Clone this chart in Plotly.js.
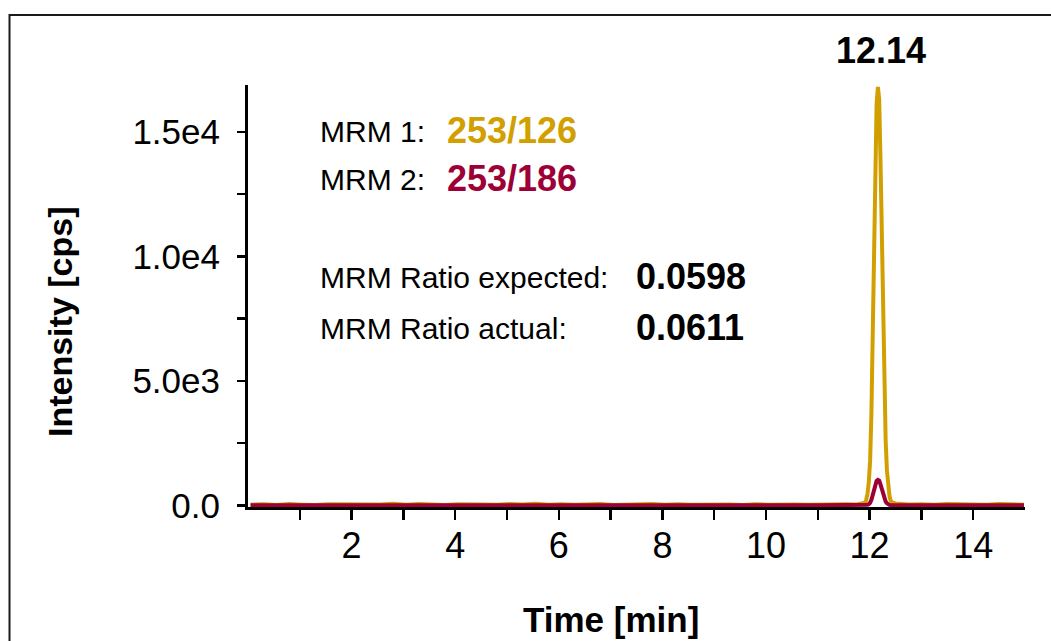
<!DOCTYPE html>
<html>
<head>
<meta charset="utf-8">
<script src="https://cdn.plot.ly/plotly-3.0.1.min.js"></script>
<style>
html,body{margin:0;padding:0;background:#fff;}
#chart{width:1051px;height:641px;}
</style>
</head>
<body>
<div id="chart"></div>
<script>
// ---- data ----
const time = [0.05,0.3,0.55,0.8,1.05,1.3,1.55,1.8,2.05,2.3,2.55,2.8,3.05,3.3,3.55,3.8,4.05,4.3,4.55,4.8,
  5.05,5.3,5.55,5.8,6.05,6.3,6.55,6.8,7.05,7.3,7.55,7.8,8.05,8.3,8.55,8.8,9.05,9.3,9.55,9.8,
  10.05,10.3,10.55,10.8,11.05,11.3,11.55,11.75,11.85,11.91,11.935,11.96,11.985,12.01,12.035,12.06,
  12.085,12.11,12.135,12.16,12.185,12.21,12.235,12.26,12.285,12.31,12.335,12.36,12.385,12.41,12.45,
  12.5,12.6,12.75,13.0,13.25,13.5,13.75,14.0,14.25,14.5,14.75,14.98];

const mrm1 = [30,55,25,60,35,20,50,40,65,30,45,70,35,60,40,25,55,65,45,30,
  60,40,70,35,55,30,45,60,25,50,40,65,35,55,30,45,60,40,25,55,
  35,60,45,30,50,40,55,40,60,110,230,480,950,1800,3700,6800,
  10000,13400,16100,16800,16300,13900,10500,7200,4600,2600,1400,720,360,180,110,
  80,60,45,55,35,60,40,55,30,65,45,30];

const mrm2 = [10,15,8,12,18,10,6,14,12,9,16,11,8,13,15,10,7,12,16,9,
  11,14,8,12,10,15,9,13,11,7,14,10,12,16,9,11,13,8,15,10,
  12,9,14,11,8,13,10,12,15,10,15,30,58,110,225,415,
  610,820,985,1026,995,850,640,440,280,160,86,44,22,12,10,
  12,9,14,10,12,8,13,11,9,12,10,8];

const xTickVals = [1,2,3,4,5,6,7,8,9,10,11,12,13,14];
const xTickText = ["","2","","4","","6","","8","","10","","12","","14"];
const yTickVals = [0,2500,5000,7500,10000,12500,15000];
const yTickText = ["0.0","","5.0e3","","1.0e4","","1.5e4"];

const seriesNames = ["MRM 1: 253/126","MRM 2: 253/186"];
const peakLabel = "12.14";
const ratioExpected = "0.0598";
const ratioActual = "0.0611";
const xTitle = "Time [min]";
const yTitle = "Intensity [cps]";

const gold = "#D29F00";
const wine = "#9C0036";
const FONT = "Liberation Sans, Arial, sans-serif";

const traces = [
  {x: time, y: mrm1, type: "scatter", mode: "lines", name: seriesNames[0],
   line: {color: gold, width: 4}, hoverinfo: "x+y"},
  {x: time, y: mrm2, type: "scatter", mode: "lines", name: seriesNames[1],
   line: {color: wine, width: 4}, hoverinfo: "x+y"}
];

// pixel -> paper helpers (plot area 248..1025 x, 85..507 y)
const L = 248, R = 26, T = 85, B = 134, W = 1051, H = 641;
const pw = W - L - R, ph = H - T - B;
const px = v => (v - L) / pw;
const py = v => (H - B - v) / ph;

function ann(text, xpx, ypx, size, color, bold, anchor, angle) {
  const a = {text: bold ? "<b>" + text + "</b>" : text, xref: "paper", yref: "paper",
    x: px(xpx), y: py(ypx), xanchor: anchor || "left", yanchor: "middle",
    showarrow: false, font: {family: FONT, size: size, color: color}};
  if (angle) a.textangle = angle;
  return a;
}

const annotations = [
  ann("MRM 1:", 318, 131, 30, "#000", false),
  ann(seriesNames[0].split(": ")[1], 445, 130, 36, gold, true),
  ann("MRM 2:", 318, 179, 30, "#000", false),
  ann(seriesNames[1].split(": ")[1], 445, 178, 36, wine, true),
  ann("MRM Ratio expected:", 318, 277, 30, "#000", false),
  ann(ratioExpected, 634, 276, 36, "#000", true),
  ann("MRM Ratio actual:", 318, 328, 30, "#000", false),
  ann(ratioActual, 634, 327, 36, "#000", true),
  ann(peakLabel, 881, 50, 36, "#000", true, "center"),
  ann(xTitle, 611, 619, 35, "#000", true, "center"),
  ann(yTitle, 60, 322, 34, "#000", true, "center", -90)
];

const layout = {
  width: W, height: H,
  margin: {l: L, r: R, t: T, b: B, pad: 0},
  paper_bgcolor: "#fff", plot_bgcolor: "#fff",
  showlegend: false,
  font: {family: FONT, color: "#000"},
  xaxis: {
    range: [0, 15], showgrid: false, zeroline: false,
    showline: true, linecolor: "#000", linewidth: 3,
    ticks: "outside", ticklen: 10, tickwidth: 2.5, tickcolor: "#000",
    tickmode: "array", tickvals: xTickVals, ticktext: xTickText,
    ticklabelstandoff: -5,
    tickfont: {family: FONT, size: 36, color: "#000"},
    automargin: false
  },
  yaxis: {
    range: [-60, 16880], showgrid: false, zeroline: false,
    showline: true, linecolor: "#000", linewidth: 3,
    ticks: "outside", ticklen: 8, tickwidth: 2.5, tickcolor: "#000",
    tickmode: "array", tickvals: yTickVals, ticktext: yTickText,
    ticklabelstandoff: 10,
    tickfont: {family: FONT, size: 35, color: "#000"},
    automargin: false
  },
  shapes: [
    {type: "rect", xref: "paper", yref: "paper",
     x0: px(9.5), x1: px(1070), y0: py(660), y1: py(15),
     line: {color: "#1a1a1a", width: 2}, fillcolor: "rgba(0,0,0,0)", layer: "below"}
  ],
  annotations: annotations
};

Plotly.newPlot("chart", traces, layout, {displayModeBar: false, staticPlot: true});
</script>
</body>
</html>
